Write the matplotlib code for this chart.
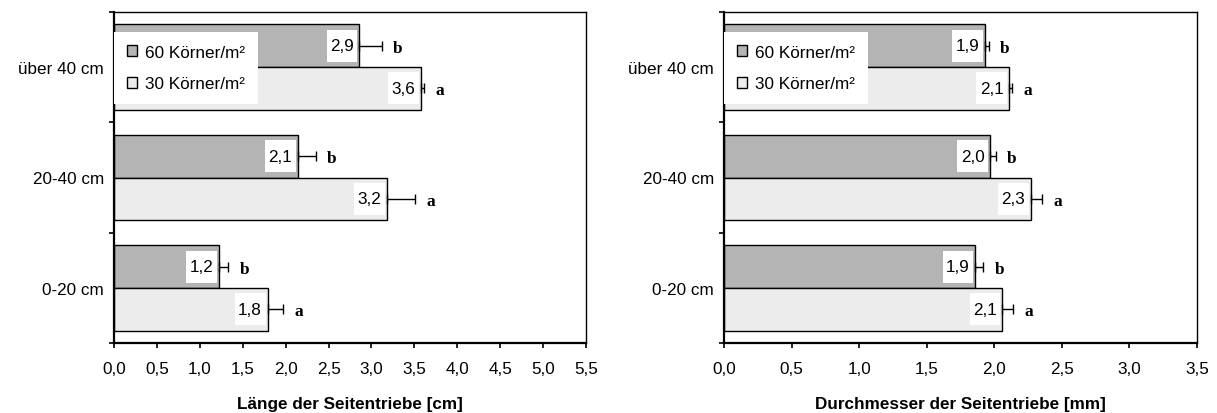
import matplotlib
matplotlib.use("Agg")
import matplotlib.pyplot as plt
from matplotlib.patches import Patch
from matplotlib.path import Path
import numpy as np

plt.rcParams['font.family'] = ['Liberation Sans', 'DejaVu Sans']

categories = ['0-20 cm', '20-40 cm', 'über 40 cm']
series_names = ['60 Körner/m²', '30 Körner/m²']

laenge_60 = [1.22, 2.14, 2.86]
laenge_60_err = [0.11, 0.21, 0.26]
laenge_30 = [1.79, 3.18, 3.58]
laenge_30_err = [0.18, 0.33, 0.03]

durch_60 = [1.86, 1.97, 1.93]
durch_60_err = [0.06, 0.04, 0.03]
durch_30 = [2.06, 2.27, 2.11]
durch_30_err = [0.08, 0.08, 0.02]

letters_60 = ['b', 'b', 'b']
letters_30 = ['a', 'a', 'a']

left_xticks = [0.0, 0.5, 1.0, 1.5, 2.0, 2.5, 3.0, 3.5, 4.0, 4.5, 5.0, 5.5]
right_xticks = [0.0, 0.5, 1.0, 1.5, 2.0, 2.5, 3.0, 3.5]

xlabel_left = 'Länge der Seitentriebe [cm]'
xlabel_right = 'Durchmesser der Seitentriebe [mm]'

DPI = 100
fig = plt.figure(figsize=(12.17, 4.14), dpi=DPI)
PX = 72.0 / DPI  # points per pixel

col60 = '#b4b4b4'
col30 = '#ececec'
FS = 12.3


def label_box(x0, y0, width, height, mutation_size):
    # white box: small horizontal padding, larger vertical padding (pixels)
    hp = 3.5
    vp = 0.0
    # text extent height ~ font size; target box height ~ 32 px
    target = 32.0
    vp = max((target - height) / 2.0, 2.0)
    x0 -= hp
    x1 = x0 + width + 2 * hp
    y0 -= vp
    y1 = y0 + height + 2 * vp
    return Path([(x0, y0), (x1, y0), (x1, y1), (x0, y1), (x0, y0)], closed=True)


def panel(ax, v60, e60, v30, e30, xticks, xlabel):
    y = np.arange(len(categories))
    h = 0.385
    y60 = y + h / 2
    y30 = y - h / 2
    ax.barh(y60, v60, height=h, color=col60, edgecolor='black', linewidth=1.0, zorder=2)
    ax.barh(y30, v30, height=h, color=col30, edgecolor='black', linewidth=1.0, zorder=2)
    ax.errorbar(v60, y60, xerr=[np.zeros(len(v60)), e60], fmt='none', ecolor='black',
                elinewidth=1.0, capsize=3.6, capthick=1.0, zorder=3)
    ax.errorbar(v30, y30, xerr=[np.zeros(len(v30)), e30], fmt='none', ecolor='black',
                elinewidth=1.0, capsize=3.6, capthick=1.0, zorder=3)
    for vals, errs, ys, lets in ((v60, e60, y60, letters_60), (v30, e30, y30, letters_30)):
        for v, e, yy, l in zip(vals, errs, ys, lets):
            ax.annotate(f'{v:.1f}'.replace('.', ','), xy=(v, yy), xytext=(-5.5 * PX, 0),
                        textcoords='offset points', ha='right', va='center', fontsize=FS,
                        bbox=dict(boxstyle=label_box, fc='white', ec='none'),
                        zorder=4)
            ax.annotate(l, xy=(v + e, yy), xytext=(16 * PX, -2 * PX),
                        textcoords='offset points', ha='center', va='center',
                        fontsize=12.5, fontweight='bold',
                        family=['Liberation Serif', 'DejaVu Serif'], zorder=4)
    ax.set_xlim(xticks[0], xticks[-1])
    ax.set_ylim(-0.5, len(categories) - 0.5)
    ax.set_xticks(xticks)
    ax.set_xticklabels([f'{t:.1f}'.replace('.', ',') for t in xticks], fontsize=FS)
    ax.set_yticks(np.arange(len(categories) + 1) - 0.5)
    ax.set_yticklabels([''] * (len(categories) + 1))
    ax.set_yticks(y, minor=True)
    ax.set_yticklabels(categories, minor=True, fontsize=FS)
    ax.tick_params(axis='y', which='minor', length=0, pad=10 * PX)
    ax.tick_params(axis='y', which='major', length=5 * PX, width=1.2, direction='out')
    ax.tick_params(axis='x', which='major', length=5 * PX, width=1.2, direction='out',
                   pad=13 * PX)
    for s in ('left', 'bottom'):
        ax.spines[s].set_linewidth(1.6)
    for s in ('top', 'right'):
        ax.spines[s].set_linewidth(1.0)
    ax.set_xlabel(xlabel, fontsize=FS, fontweight='bold')
    ax.xaxis.set_label_coords(0.5, -0.158)
    ax.xaxis.label.set_va('top')
    handles = [Patch(facecolor=col60, edgecolor='black', linewidth=1.0),
               Patch(facecolor=col30, edgecolor='black', linewidth=1.0)]
    leg = ax.legend(handles, series_names, loc='upper left', bbox_to_anchor=(0.0, 0.9388),
                    borderaxespad=0, fontsize=FS, frameon=True, fancybox=False,
                    framealpha=1.0, edgecolor='none', facecolor='white',
                    handlelength=0.62, handleheight=0.62, handletextpad=0.45,
                    labelspacing=0.97, borderpad=0.75)
    leg.set_zorder(5)


ax1 = fig.add_axes([114 / 1217, 1 - 344.3 / 414, 472 / 1217, 331.6 / 414])
ax2 = fig.add_axes([724 / 1217, 1 - 344.3 / 414, 473 / 1217, 331.6 / 414])
panel(ax1, laenge_60, laenge_60_err, laenge_30, laenge_30_err, left_xticks, xlabel_left)
panel(ax2, durch_60, durch_60_err, durch_30, durch_30_err, right_xticks, xlabel_right)

fig.savefig('out.png', dpi=DPI)
